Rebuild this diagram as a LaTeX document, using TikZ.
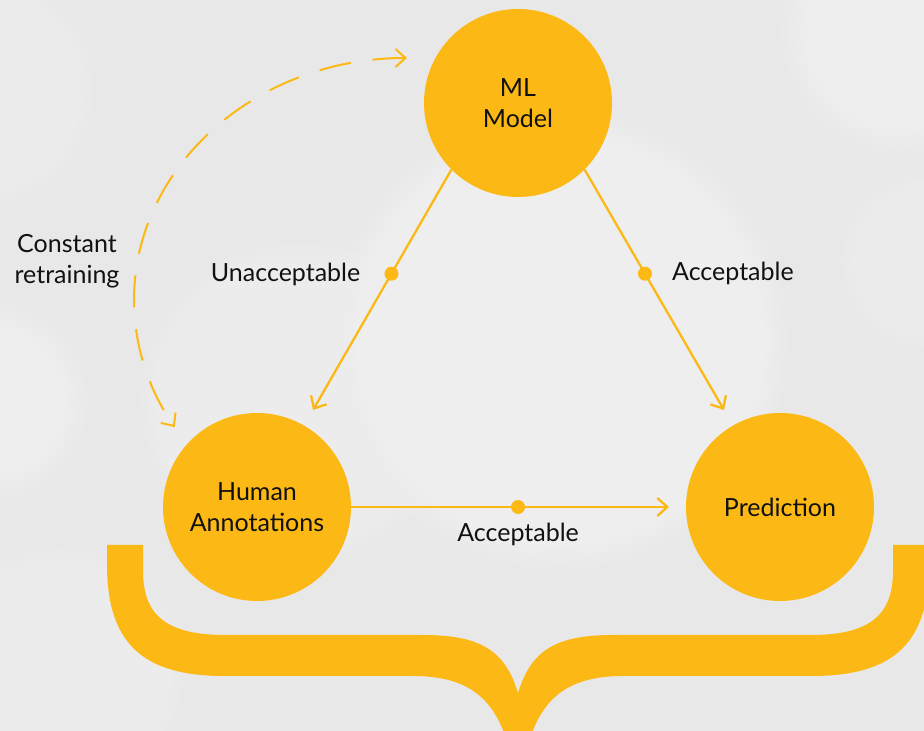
\documentclass[tikz,border=0pt]{standalone}
\usepackage{fontspec}
\setmainfont{Lato}
\usetikzlibrary{arrows.meta}
\definecolor{ylw}{RGB}{252,185,22}
\definecolor{bgc}{RGB}{232,232,232}
\definecolor{ink}{RGB}{17,17,17}
\newcommand\mylbl{\fontsize{25}{31.5}\selectfont}
\newcommand\softdisc[3]{%
  \foreach \k in {0,...,5}{\fill[white, fill opacity=#3] (#1) circle ({#2-5*\k});}}
\tikzset{
  circ/.style={circle, fill=ylw, minimum size=188pt, inner sep=0pt, align=center, font=\mylbl, text=ink},
  dotnode/.style={circle, fill=ylw, minimum size=14pt, inner sep=0pt},
  conn/.style={draw=ylw, line width=2.3pt, -{Straight Barb[length=10pt,width=18pt]}},
  retrain/.style={draw=ylw, line width=2pt, dash pattern=on 32pt off 22pt, {Straight Barb[length=10pt,width=18pt]}-{Straight Barb[length=10pt,width=18pt]}},
  lab/.style={font=\mylbl, text=ink, inner sep=0pt}
}
\begin{document}
\begin{tikzpicture}[x=1pt,y=1pt]
\useasboundingbox (0,0) rectangle (924,731);
\begin{scope}
\clip (0,0) rectangle (924,731);
\fill[bgc] (0,0) rectangle (924,731);
% soft background circles
\softdisc{905,700}{125}{0.06}
\softdisc{-20,640}{115}{0.05}
\softdisc{-10,330}{100}{0.06}
\softdisc{930,470}{90}{0.05}
\softdisc{560,390}{230}{0.06}
\softdisc{300,330}{160}{0.05}
\softdisc{60,60}{125}{0.05}
% brace
\fill[ylw] (107,186) -- (107,166) .. controls (107,81) and (150,55) .. (225,55) -- (413,55)
  .. controls (470,55) and (495,31) .. (508,-14) -- (528,-14)
  .. controls (541,31) and (566,55) .. (623,55) -- (811,55)
  .. controls (886,55) and (929,81) .. (929,166) -- (929,186) -- (893,186) -- (893,161)
  .. controls (893,121) and (876,96) .. (811,96) -- (613,96)
  .. controls (556,96) and (531,81) .. (518,38)
  .. controls (505,81) and (480,96) .. (423,96) -- (225,96)
  .. controls (160,96) and (143,121) .. (143,161) -- (143,186) -- cycle;
\end{scope}
% main nodes
\node[circ] (ml) at (518,628) {ML\\Model};
\node[circ] (hum) at (257,224) {Human\\Annotations};
\node[circ] (pred) at (780,224) {Prediction};
% arrow end points
\coordinate (hTip) at ([shift={(60:112)}]hum.center);
\coordinate (pTip) at ([shift={(120:112)}]pred.center);
\coordinate (bTip) at ([shift={(-111,0)}]pred.center);
\coordinate (dTop) at ([shift={(-111,45)}]ml.center);
% connectors
\draw[conn] (ml.225) -- node[dotnode, pos=0.433] (d1) {} (hTip);
\draw[conn] (ml.-45) -- node[dotnode, pos=0.433] (d2) {} (pTip);
\draw[conn] (hum.east) -- node[dotnode, pos=0.525] (d3) {} (bTip);
\draw[retrain] (dTop) arc[start angle=90, end angle=211.7, x radius=273, y radius=242];
% labels
\node[lab, anchor=base east] (l1) at ([shift={(-31,-8)}]d1.center) {Unacceptable};
\node[lab, anchor=base west] (l2) at ([shift={(27,-7)}]d2.center) {Acceptable};
\node[lab, anchor=base] (l3) at ([shift={(0,-35)}]d3.center) {Acceptable};
\node[lab, align=center] (l4) at (67,470) {Constant\\retraining};
\end{tikzpicture}
\end{document}
